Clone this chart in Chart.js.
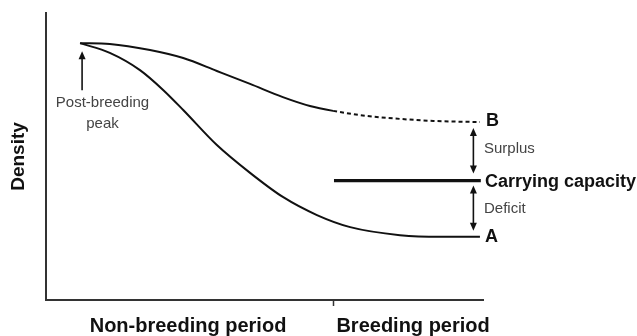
<!DOCTYPE html>
<html>
<head>
<meta charset="utf-8">
<script src="https://cdn.jsdelivr.net/npm/chart.js@4"></script>
<style>
  html, body { margin: 0; padding: 0; background: #fff; }
  #wrap { width: 637px; height: 336px; }
</style>
</head>
<body>
<div id="wrap"><canvas id="c"></canvas></div>
<script>
// Seasonal density trajectories (x: time through the year, y: density, both 0-100)
const periodLabels = ['Non-breeding period', 'Breeding period'];
const periodLabelPos = [32.5, 84];
const breedingStart = 65.7;

// Trajectory B: stays above carrying capacity (dashed once breeding starts)
const trajBx = [7.8, 14.6, 23.8, 31.4, 39.1, 46.7, 54.2, 60.4, 65.7, 73.5, 81.0, 88.6, 99.3];
const trajBy = [89.5, 89.2, 87.1, 84.3, 79.8, 75.3, 70.7, 67.6, 65.9, 64.1, 63.1, 62.4, 62.0];

// Trajectory A: falls below carrying capacity
const trajAx = [7.8, 14.6, 21.5, 26.8, 31.4, 39.1, 46.7, 54.2, 62.0, 69.6, 81.0, 90.2, 99.3];
const trajAy = [89.5, 86.1, 80.1, 73.2, 66.2, 54.0, 44.3, 35.9, 29.6, 25.4, 22.6, 22.0, 22.0];

const carryingCapacity = 41.6;
const capacityRange = [65.9, 99.5];

const toPoints = (xs, ys) => xs.map((x, i) => ({ x, y: ys[i] }));

const FONT = 'Liberation Sans, Arial, Helvetica, sans-serif';
const INK = '#111';

const annotations = {
  id: 'annotations',
  afterDatasetsDraw(chart) {
    const { ctx, scales: { x, y } } = chart;
    const ax = v => x.getPixelForValue(v);
    const ay = v => y.getPixelForValue(v);

    function arrowHead(px, py, dir) {
      // dir = -1 points up, +1 points down
      ctx.beginPath();
      ctx.moveTo(px, py);
      ctx.lineTo(px - 3.5, py - dir * 8);
      ctx.lineTo(px + 3.5, py - dir * 8);
      ctx.closePath();
      ctx.fill();
    }
    function doubleArrow(px, yTop, yBottom) {
      ctx.beginPath();
      ctx.moveTo(px, yTop + 5);
      ctx.lineTo(px, yBottom - 5);
      ctx.stroke();
      arrowHead(px, yTop, -1);
      arrowHead(px, yBottom, 1);
    }

    ctx.save();
    ctx.strokeStyle = INK;
    ctx.fillStyle = INK;
    ctx.lineWidth = 1.6;

    const endB = trajBy[trajBy.length - 1];
    const endA = trajAy[trajAy.length - 1];
    const arrowX = ax(97.8);

    doubleArrow(arrowX, ay(endB) + 6, ay(carryingCapacity) - 7);   // surplus
    doubleArrow(arrowX, ay(carryingCapacity) + 5, ay(endA) - 6);   // deficit

    // post-breeding peak marker
    const peakX = ax(trajBx[0]) + 2;
    const peakY = ay(trajBy[0]);
    ctx.beginPath();
    ctx.moveTo(peakX, peakY + 13);
    ctx.lineTo(peakX, peakY + 47);
    ctx.stroke();
    arrowHead(peakX, peakY + 8, -1);

    const right = ax(100);
    ctx.textBaseline = 'middle';
    ctx.textAlign = 'left';

    ctx.font = 'bold 18px ' + FONT;
    ctx.fillText('B', right + 3, ay(endB) - 1);
    ctx.fillText('A', right + 2, ay(endA) + 0);

    ctx.font = 'bold 18px ' + FONT;
    ctx.fillText('Carrying capacity', right + 2, ay(carryingCapacity) + 1);

    ctx.fillStyle = '#444';
    ctx.font = '15px ' + FONT;
    ctx.fillText('Surplus', right + 1, 149);
    ctx.fillText('Deficit', right + 1, 209);

    ctx.textAlign = 'center';
    ctx.fillText('Post-breeding', 102.5, 103);
    ctx.fillText('peak', 102.5, 124);
    ctx.restore();
  }
};

new Chart(document.getElementById('c'), {
  type: 'line',
  data: {
    datasets: [
      {
        label: 'B',
        data: toPoints(trajBx, trajBy),
        borderColor: INK,
        borderWidth: 2,
        pointRadius: 0,
        cubicInterpolationMode: 'monotone',
        segment: {
          borderDash: c => c.p0.parsed.x >= breedingStart - 0.01 ? [4, 3] : undefined
        }
      },
      {
        label: 'A',
        data: toPoints(trajAx, trajAy),
        borderColor: INK,
        borderWidth: 2,
        pointRadius: 0,
        cubicInterpolationMode: 'monotone'
      },
      {
        label: 'Carrying capacity',
        data: capacityRange.map(x => ({ x, y: carryingCapacity })),
        borderColor: INK,
        borderWidth: 3.2,
        pointRadius: 0
      }
    ]
  },
  options: {
    responsive: true,
    maintainAspectRatio: false,
    animation: false,
    layout: { padding: { top: 13, right: 154, left: 0, bottom: 0 } },
    plugins: { legend: { display: false }, tooltip: { enabled: false } },
    scales: {
      x: {
        type: 'linear',
        min: 0,
        max: 100,
        afterFit: s => { s.height = 36; },
        afterBuildTicks: s => {
          s.ticks = [
            { value: periodLabelPos[0] },
            { value: breedingStart },
            { value: periodLabelPos[1] }
          ];
        },
        grid: {
          drawOnChartArea: false,
          drawTicks: true,
          tickLength: 6,
          tickWidth: 1.5,
          tickColor: c => (c.tick && Math.abs(c.tick.value - breedingStart) < 0.01) ? '#333' : 'rgba(0,0,0,0)'
        },
        border: { display: true, color: '#333', width: 2 },
        ticks: {
          autoSkip: false,
          maxRotation: 0,
          padding: 8,
          color: INK,
          font: { family: FONT, size: 20, weight: 'bold' },
          callback: v => v === periodLabelPos[0] ? periodLabels[0] : (v === periodLabelPos[1] ? periodLabels[1] : '')
        }
      },
      y: {
        type: 'linear',
        min: 0,
        max: 100,
        afterFit: s => { s.width = 46; },
        grid: { drawOnChartArea: false, drawTicks: false },
        border: { display: true, color: '#333', width: 2 },
        ticks: { display: false },
        title: {
          display: true,
          text: 'Density',
          color: INK,
          font: { family: FONT, size: 19, weight: 'bold' },
          padding: { top: 7, bottom: 0 }
        }
      }
    }
  },
  plugins: [annotations]
});
</script>
</body>
</html>
